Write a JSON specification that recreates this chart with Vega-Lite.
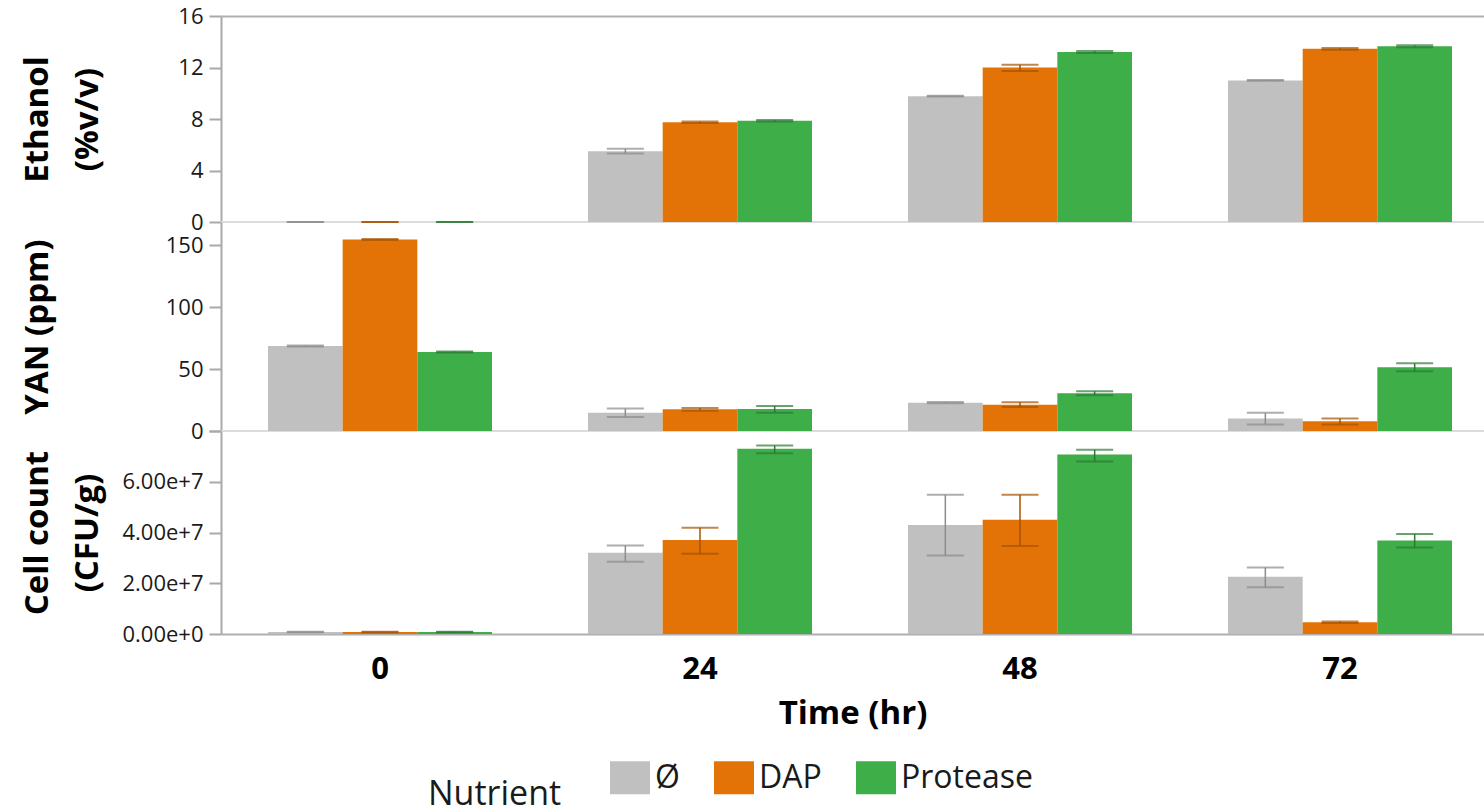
{
  "$schema": "https://vega.github.io/schema/vega-lite/v6.json",
  "autosize": {"type": "pad"},
  "padding": {"left": 21, "top": 5, "right": 0, "bottom": 0},
  "background": "white",
  "spacing": 0,
  "bounds": "flush",
  "datasets": {
    "obs": [
      {"measure": "Ethanol", "time": 0, "nutrient": "Ø", "value": 0, "lo": 0, "hi": 0},
      {"measure": "Ethanol", "time": 0, "nutrient": "DAP", "value": 0, "lo": 0, "hi": 0},
      {"measure": "Ethanol", "time": 0, "nutrient": "Protease", "value": 0, "lo": 0, "hi": 0},
      {"measure": "Ethanol", "time": 24, "nutrient": "Ø", "value": 5.5, "lo": 5.32, "hi": 5.68},
      {"measure": "Ethanol", "time": 24, "nutrient": "DAP", "value": 7.74, "lo": 7.68, "hi": 7.8},
      {"measure": "Ethanol", "time": 24, "nutrient": "Protease", "value": 7.87, "lo": 7.81, "hi": 7.93},
      {"measure": "Ethanol", "time": 48, "nutrient": "Ø", "value": 9.77, "lo": 9.74, "hi": 9.8},
      {"measure": "Ethanol", "time": 48, "nutrient": "DAP", "value": 12.0, "lo": 11.72, "hi": 12.22},
      {"measure": "Ethanol", "time": 48, "nutrient": "Protease", "value": 13.2, "lo": 13.12, "hi": 13.28},
      {"measure": "Ethanol", "time": 72, "nutrient": "Ø", "value": 11.0, "lo": 10.97, "hi": 11.03},
      {"measure": "Ethanol", "time": 72, "nutrient": "DAP", "value": 13.45, "lo": 13.38, "hi": 13.52},
      {"measure": "Ethanol", "time": 72, "nutrient": "Protease", "value": 13.65, "lo": 13.58, "hi": 13.72},
      {"measure": "YAN", "time": 0, "nutrient": "Ø", "value": 68.7, "lo": 68.3, "hi": 69.1},
      {"measure": "YAN", "time": 0, "nutrient": "DAP", "value": 154.8, "lo": 154.4, "hi": 155.2},
      {"measure": "YAN", "time": 0, "nutrient": "Protease", "value": 63.9, "lo": 63.5, "hi": 64.3},
      {"measure": "YAN", "time": 24, "nutrient": "Ø", "value": 14.8, "lo": 11.3, "hi": 18.1},
      {"measure": "YAN", "time": 24, "nutrient": "DAP", "value": 17.6, "lo": 16.4, "hi": 18.6},
      {"measure": "YAN", "time": 24, "nutrient": "Protease", "value": 17.8, "lo": 14.8, "hi": 20.2},
      {"measure": "YAN", "time": 48, "nutrient": "Ø", "value": 22.9, "lo": 22.4, "hi": 23.4},
      {"measure": "YAN", "time": 48, "nutrient": "DAP", "value": 21.3, "lo": 19.5, "hi": 23.2},
      {"measure": "YAN", "time": 48, "nutrient": "Protease", "value": 30.6, "lo": 29.0, "hi": 32.2},
      {"measure": "YAN", "time": 72, "nutrient": "Ø", "value": 10.2, "lo": 5.3, "hi": 14.7},
      {"measure": "YAN", "time": 72, "nutrient": "DAP", "value": 7.8, "lo": 5.3, "hi": 10.2},
      {"measure": "YAN", "time": 72, "nutrient": "Protease", "value": 51.5, "lo": 48.3, "hi": 54.7},
      {"measure": "Cells", "time": 0, "nutrient": "Ø", "value": 800000, "lo": 700000, "hi": 900000},
      {"measure": "Cells", "time": 0, "nutrient": "DAP", "value": 800000, "lo": 700000, "hi": 900000},
      {"measure": "Cells", "time": 0, "nutrient": "Protease", "value": 800000, "lo": 700000, "hi": 900000},
      {"measure": "Cells", "time": 24, "nutrient": "Ø", "value": 32000000, "lo": 28500000, "hi": 34900000},
      {"measure": "Cells", "time": 24, "nutrient": "DAP", "value": 37000000, "lo": 31600000, "hi": 41900000},
      {"measure": "Cells", "time": 24, "nutrient": "Protease", "value": 73000000, "lo": 71200000, "hi": 74300000},
      {"measure": "Cells", "time": 48, "nutrient": "Ø", "value": 43000000, "lo": 30900000, "hi": 54900000},
      {"measure": "Cells", "time": 48, "nutrient": "DAP", "value": 45000000, "lo": 34700000, "hi": 54900000},
      {"measure": "Cells", "time": 48, "nutrient": "Protease", "value": 70700000, "lo": 68000000, "hi": 72600000},
      {"measure": "Cells", "time": 72, "nutrient": "Ø", "value": 22600000, "lo": 18400000, "hi": 26200000},
      {"measure": "Cells", "time": 72, "nutrient": "DAP", "value": 4600000, "lo": 4300000, "hi": 4900000},
      {"measure": "Cells", "time": 72, "nutrient": "Protease", "value": 36800000, "lo": 34100000, "hi": 39400000}
    ]
  },
  "data": {"name": "obs"},
  "resolve": {"scale": {"color": "shared"}},
  "vconcat": [
    {
      "width": 1263,
      "height": 206,
      "transform": [{"filter": "datum.measure === 'Ethanol'"}],
      "layer": [
        {
          "mark": {"type": "rule", "color": "#dcdcdc", "strokeWidth": 2},
          "encoding": {"y": {"datum": 0, "type": "quantitative"}}
        },
        {
          "mark": {"type": "bar"},
          "encoding": {
            "x": {"field": "time", "type": "ordinal", "scale": {"paddingInner": 0.3, "paddingOuter": 0.1234, "align": 0.595},
                  "axis": {"orient": "top", "labels": false, "ticks": false, "title": null, "domainColor": "#b0b0b0"}},
            "xOffset": {"field": "nutrient", "sort": ["Ø", "DAP", "Protease"], "scale": {"paddingInner": 0, "paddingOuter": 0}},
            "y": {"field": "value", "type": "quantitative", "scale": {"domain": [0, 16], "nice": false},
                  "axis": {"title": ["Ethanol", "(%v/v)"], "values": [0, 2, 4, 6, 8, 10, 12, 14, 16],
                           "labelExpr": "datum.value % 4 === 0 ? datum.label : ''", "titleY": 103}},
            "color": {"field": "nutrient", "type": "nominal", "scale": {"domain": ["Ø", "DAP", "Protease"], "range": ["#c0c0c0", "#e37306", "#3dae48"]},
                      "legend": {"title": "Nutrient"}}
          }
        },
        {
          "mark": {"type": "rule", "strokeWidth": 1.5},
          "encoding": {
            "x": {"field": "time", "type": "ordinal"},
            "xOffset": {"field": "nutrient", "sort": ["Ø", "DAP", "Protease"]},
            "y": {"field": "lo", "type": "quantitative"},
            "y2": {"field": "hi"},
            "stroke": {"field": "nutrient", "type": "nominal", "scale": {"domain": ["Ø", "DAP", "Protease"], "range": ["#8c8c8c", "#a65300", "#2b7a34"]}, "legend": null}
          }
        },
        {
          "mark": {"type": "tick", "thickness": 2, "size": 37},
          "encoding": {
            "x": {"field": "time", "type": "ordinal"},
            "xOffset": {"field": "nutrient", "sort": ["Ø", "DAP", "Protease"]},
            "y": {"field": "lo", "type": "quantitative"},
            "fill": {"field": "nutrient", "type": "nominal", "scale": {"domain": ["Ø", "DAP", "Protease"], "range": ["#8c8c8c", "#a65300", "#2b7a34"]}, "legend": null}
          }
        },
        {
          "mark": {"type": "tick", "thickness": 2, "size": 37},
          "encoding": {
            "x": {"field": "time", "type": "ordinal"},
            "xOffset": {"field": "nutrient", "sort": ["Ø", "DAP", "Protease"]},
            "y": {"field": "hi", "type": "quantitative"},
            "fill": {"field": "nutrient", "type": "nominal", "scale": {"domain": ["Ø", "DAP", "Protease"], "range": ["#8c8c8c", "#a65300", "#2b7a34"]}, "legend": null}
          }
        }
      ]
    },
    {
      "width": 1263,
      "height": 209,
      "transform": [{"filter": "datum.measure === 'YAN'"}],
      "layer": [
        {
          "mark": {"type": "rule", "color": "#dcdcdc", "strokeWidth": 2},
          "encoding": {"y": {"datum": 0, "type": "quantitative"}}
        },
        {
          "mark": {"type": "bar"},
          "encoding": {
            "x": {"field": "time", "type": "ordinal", "scale": {"paddingInner": 0.3, "paddingOuter": 0.1234, "align": 0.595}, "axis": null},
            "xOffset": {"field": "nutrient", "sort": ["Ø", "DAP", "Protease"], "scale": {"paddingInner": 0, "paddingOuter": 0}},
            "y": {"field": "value", "type": "quantitative", "scale": {"domain": [0, 169], "nice": false},
                  "axis": {"title": "YAN (ppm)", "values": [0, 25, 50, 75, 100, 125, 150],
                           "labelExpr": "datum.value % 50 === 0 ? datum.label : ''",
                           "tickSize": {"expr": "datum.value % 50 === 0 ? 12 : 5"}, "labelPadding": 6, "titleY": 104.5}},
            "color": {"field": "nutrient", "type": "nominal", "scale": {"domain": ["Ø", "DAP", "Protease"], "range": ["#c0c0c0", "#e37306", "#3dae48"]},
                      "legend": {"title": "Nutrient"}}
          }
        },
        {
          "mark": {"type": "rule", "strokeWidth": 1.5},
          "encoding": {
            "x": {"field": "time", "type": "ordinal"},
            "xOffset": {"field": "nutrient", "sort": ["Ø", "DAP", "Protease"]},
            "y": {"field": "lo", "type": "quantitative"},
            "y2": {"field": "hi"},
            "stroke": {"field": "nutrient", "type": "nominal", "scale": {"domain": ["Ø", "DAP", "Protease"], "range": ["#8c8c8c", "#a65300", "#2b7a34"]}, "legend": null}
          }
        },
        {
          "mark": {"type": "tick", "thickness": 2, "size": 37},
          "encoding": {
            "x": {"field": "time", "type": "ordinal"},
            "xOffset": {"field": "nutrient", "sort": ["Ø", "DAP", "Protease"]},
            "y": {"field": "lo", "type": "quantitative"},
            "fill": {"field": "nutrient", "type": "nominal", "scale": {"domain": ["Ø", "DAP", "Protease"], "range": ["#8c8c8c", "#a65300", "#2b7a34"]}, "legend": null}
          }
        },
        {
          "mark": {"type": "tick", "thickness": 2, "size": 37},
          "encoding": {
            "x": {"field": "time", "type": "ordinal"},
            "xOffset": {"field": "nutrient", "sort": ["Ø", "DAP", "Protease"]},
            "y": {"field": "hi", "type": "quantitative"},
            "fill": {"field": "nutrient", "type": "nominal", "scale": {"domain": ["Ø", "DAP", "Protease"], "range": ["#8c8c8c", "#a65300", "#2b7a34"]}, "legend": null}
          }
        }
      ]
    },
    {
      "width": 1263,
      "height": 203,
      "transform": [{"filter": "datum.measure === 'Cells'"}],
      "layer": [
        {
          "mark": {"type": "bar"},
          "encoding": {
            "x": {"field": "time", "type": "ordinal", "scale": {"paddingInner": 0.3, "paddingOuter": 0.1234, "align": 0.595},
                  "axis": {"title": "Time (hr)", "labelPadding": 44, "labelBaseline": "alphabetic", "titleY": 89, "titleBaseline": "alphabetic", "domainColor": "#b0b0b0"}},
            "xOffset": {"field": "nutrient", "sort": ["Ø", "DAP", "Protease"], "scale": {"paddingInner": 0, "paddingOuter": 0}},
            "y": {"field": "value", "type": "quantitative", "scale": {"domain": [0, 80000000], "nice": false},
                  "axis": {"title": ["Cell count", "(CFU/g)"], "format": ".2e",
                           "values": [0, 10000000, 20000000, 30000000, 40000000, 50000000, 60000000, 70000000, 80000000],
                           "labelExpr": "datum.value % 20000000 === 0 && datum.value < 80000000 ? datum.label : ''", "titleY": 101.5}},
            "color": {"field": "nutrient", "type": "nominal", "scale": {"domain": ["Ø", "DAP", "Protease"], "range": ["#c0c0c0", "#e37306", "#3dae48"]},
                      "legend": {"title": "Nutrient"}}
          }
        },
        {
          "mark": {"type": "rule", "strokeWidth": 1.5},
          "encoding": {
            "x": {"field": "time", "type": "ordinal"},
            "xOffset": {"field": "nutrient", "sort": ["Ø", "DAP", "Protease"]},
            "y": {"field": "lo", "type": "quantitative"},
            "y2": {"field": "hi"},
            "stroke": {"field": "nutrient", "type": "nominal", "scale": {"domain": ["Ø", "DAP", "Protease"], "range": ["#8c8c8c", "#a65300", "#2b7a34"]}, "legend": null}
          }
        },
        {
          "mark": {"type": "tick", "thickness": 2, "size": 37},
          "encoding": {
            "x": {"field": "time", "type": "ordinal"},
            "xOffset": {"field": "nutrient", "sort": ["Ø", "DAP", "Protease"]},
            "y": {"field": "lo", "type": "quantitative"},
            "fill": {"field": "nutrient", "type": "nominal", "scale": {"domain": ["Ø", "DAP", "Protease"], "range": ["#8c8c8c", "#a65300", "#2b7a34"]}, "legend": null}
          }
        },
        {
          "mark": {"type": "tick", "thickness": 2, "size": 37},
          "encoding": {
            "x": {"field": "time", "type": "ordinal"},
            "xOffset": {"field": "nutrient", "sort": ["Ø", "DAP", "Protease"]},
            "y": {"field": "hi", "type": "quantitative"},
            "fill": {"field": "nutrient", "type": "nominal", "scale": {"domain": ["Ø", "DAP", "Protease"], "range": ["#8c8c8c", "#a65300", "#2b7a34"]}, "legend": null}
          }
        }
      ]
    }
  ],
  "config": {
    "view": {"stroke": null},
    "axis": {
      "domainColor": "#a9a9a9", "domainWidth": 2, "tickColor": "#a9a9a9", "tickWidth": 2,
      "labelFont": "Open Sans", "labelColor": "#1a1a1a", "titleFont": "Open Sans", "titleColor": "#000000",
      "titleFontWeight": "bold", "grid": false, "labelFlush": false, "labelOverlap": false
    },
    "axisY": {
      "tickSize": 12, "labelPadding": 6, "labelFontSize": 22, "titleFontSize": 33, "titleAngle": 270,
      "titleAlign": "center", "titleBaseline": "alphabetic", "titleX": -174, "titleLineHeight": 50
    },
    "axisX": {
      "ticks": false, "tickSize": 0, "labelFontSize": 31, "labelFontWeight": "bold", "labelColor": "#000000",
      "labelAngle": 0, "titleFontSize": 33
    },
    "legend": {
      "orient": "none", "legendX": 207, "legendY": 741.5, "direction": "horizontal",
      "titleOrient": "left", "titleAnchor": "end", "titleBaseline": "middle", "titlePadding": 48,
      "titleFont": "Open Sans", "titleFontSize": 34, "titleFontWeight": "normal", "titleColor": "#1a1a1a",
      "labelFont": "Open Sans", "labelFontSize": 32, "labelColor": "#1a1a1a", "labelOffset": 5,
      "columnPadding": 34, "symbolType": "M-1,-0.825H1V0.825H-1Z", "symbolSize": 1600,
      "symbolStrokeWidth": 0, "padding": 0, "offset": 0
    }
  }
}
